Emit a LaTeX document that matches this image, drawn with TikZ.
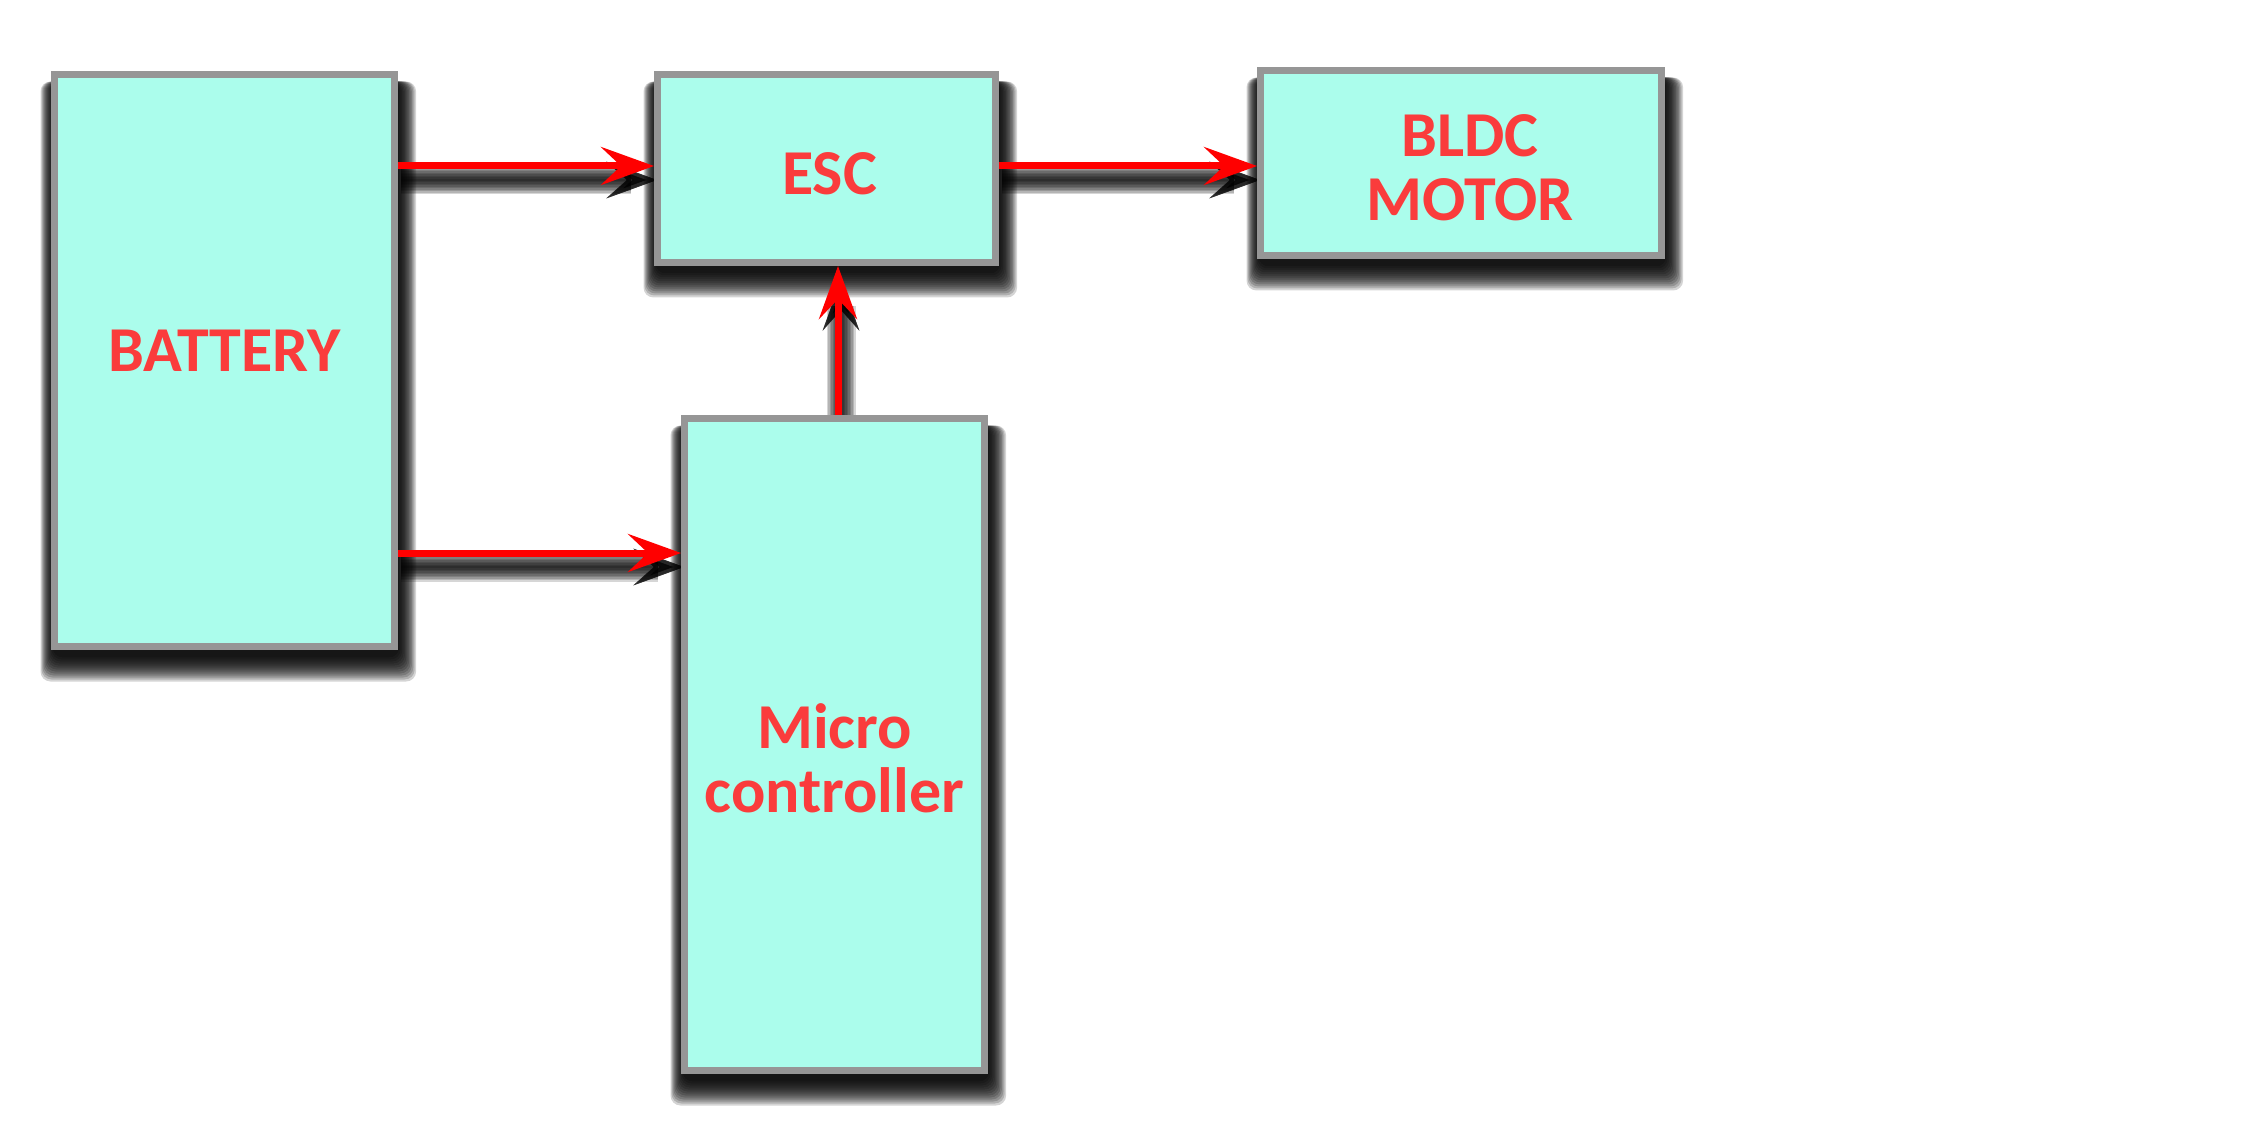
\documentclass[tikz,border=0pt]{standalone}
\usepackage{fontspec}
\setmainfont{Carlito}
\usetikzlibrary{arrows.meta}
\definecolor{boxfill}{RGB}{171,253,236}
\definecolor{boxborder}{RGB}{150,150,150}
\definecolor{txtred}{RGB}{250,60,60}
\definecolor{arrred}{RGB}{255,0,0}
\pgfdeclarelayer{shadowlayer}
\pgfsetlayers{shadowlayer,main}
\begin{document}
\begin{tikzpicture}[x=1pt,y=-1pt,
  box/.style={rectangle, draw=boxborder, line width=7pt, fill=boxfill, inner sep=0pt},
  txt/.style={text=txtred, font=\fontsize{64}{64}\selectfont\bfseries, align=center, inner sep=0pt},
  conn/.style={draw=arrred, line width=7pt,
      -{Stealth[length=53pt,width=38pt,inset=20pt]}},
  connshadow/.style={draw=black, opacity=0.16, line width=#1,
      -{Stealth[length=50pt,width=36pt,inset=20pt,line width=#1]}},
  boxshadow/.style={fill=black, opacity=0.17, rounded corners=10pt}
]
\useasboundingbox (0,0) rectangle (2268,1123);

\node[box, minimum width=340pt, minimum height=572pt,
      label={[txt,yshift=10pt]center:BATTERY}] (battery) at (224.5,360.5) {};
\node[box, minimum width=338pt, minimum height=188pt,
      label={[txt,yshift=-5.5pt,xshift=3pt]center:ESC}] (esc) at (826.5,168.5) {};
\node[box, minimum width=401pt, minimum height=185pt,
      label={[txt,yshift=-5pt,xshift=9pt]center:{BLDC\\MOTOR}}] (bldc) at (1461,163) {};
\node[box, minimum width=300pt, minimum height=652pt,
      label={[txt,yshift=-14pt]center:{Micro\\controller}}] (micro) at (834.5,744.5) {};

\coordinate (b1) at ([yshift=194.5pt]battery.east);
\coordinate (b2) at ([yshift=-192.5pt]battery.east);
\coordinate (e1) at ([yshift=2.5pt]esc.east);
\coordinate (m1) at ([xshift=3.5pt]micro.north);

\begin{pgfonlayer}{shadowlayer}
  \foreach \n in {battery,esc,bldc,micro}{
    \foreach \e in {-6,-4,...,18}{
      \fill[boxshadow] ([shift={(2-0.5*\e-3.5,14-3.5)}]\n.north west)
        rectangle ([shift={(2+0.7*\e+3.5,10+\e+3.5)}]\n.south east);
    }
  }
  \begin{scope}[transform canvas={shift={(3pt,-14pt)}}]
    \foreach \w in {2pt,5pt,8pt,11pt,14pt,17pt,20pt,23pt,26pt,29pt}{
      \draw[connshadow=\w] (b1) -- (b1 -| esc.west);
      \draw[connshadow=\w] (b2) -- (b2 -| micro.west);
      \draw[connshadow=\w] (e1) -- (e1 -| bldc.west);
      \draw[connshadow=\w] (m1) -- (m1 |- esc.south);
    }
  \end{scope}
\end{pgfonlayer}

\draw[conn] (b1) -- (b1 -| esc.west);
\draw[conn] (b2) -- (b2 -| micro.west);
\draw[conn] (e1) -- (e1 -| bldc.west);
\draw[conn] (m1) -- (m1 |- esc.south);
\end{tikzpicture}
\end{document}
